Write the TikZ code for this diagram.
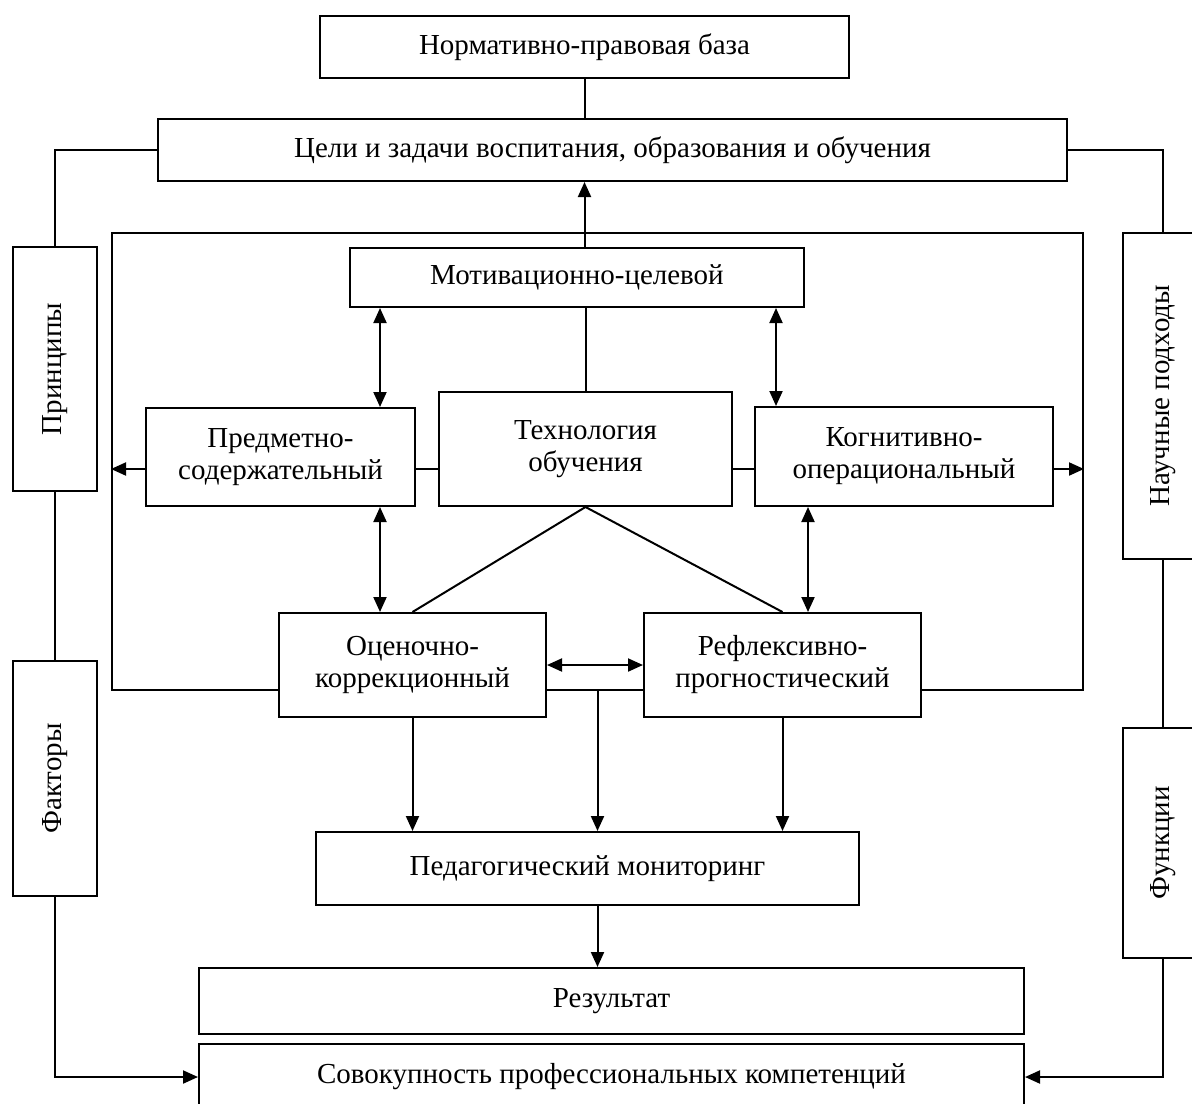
\documentclass[tikz,border=0pt]{standalone}
\usepackage{fontspec}
\setmainfont{Liberation Serif}
\usepackage{graphicx}
\usepackage{tikz}
\usetikzlibrary{arrows.meta,positioning}
\tikzset{blok/.style={draw,fill=white,inner sep=0pt,align=center,font=\fontsize{14.5}{16}\selectfont}}
\newcommand\vtext[1]{\rotatebox{90}{#1}}

\begin{document}
\begin{tikzpicture}[x=0.5pt,y=-0.5pt,line width=1pt,>={Triangle[length=7.5pt,width=6.5pt]}]%
        \useasboundingbox (0,0) rectangle (1192,1103);%
        \clip (0,0) rectangle (1192,1103);%
        %\draw[step=100,color=gray,very thin] (0,0) grid (1192,1103);%%
        \node[draw,minimum width=485.5pt,minimum height=228.5pt] (ramka) at (597.5,461.5) {}; %%
        \coordinate (lcol) at (380,0); %%
        \coordinate (rcolA) at (776,0); %%
        \coordinate (rcolB) at (808,0); %%
        \coordinate (mid) at (0,469); %%
        \begin{scope}[every node/.style={blok}]
        \node[minimum width=264.5pt,minimum height=31pt] (norm) at (584.5,47) {Нормативно-правовая база}; %%
        \node[minimum width=454.5pt,minimum height=31pt] (celi) at (612.5,150) {Цели и задачи воспитания, образования и обучения}; %%
        \node[minimum width=227pt,minimum height=29.5pt] (motiv) at (577,277.5) {Мотивационно-целевой}; %%
        \node[minimum width=134.5pt,minimum height=49pt] (predm) at (280.5,457) {Предметно-\\содержательный}; %%
        \node[minimum width=146.5pt,minimum height=57pt] (tech) at (585.5,449) {Технология\\обучения}; %%
        \node[minimum width=149pt,minimum height=49.5pt] (kogn) at (904,456.5) {Когнитивно-\\операциональный}; %%
        \node[minimum width=133.5pt,minimum height=52pt] (ocen) at (412.5,665) {Оценочно-\\коррекционный}; %%
        \node[minimum width=138.5pt,minimum height=52pt] (refl) at (782.5,665) {Рефлексивно-\\прогностический}; %%
        \node[minimum width=271.5pt,minimum height=36.5pt] (monit) at (587.5,868.5) {Педагогический мониторинг}; %%
        \node[minimum width=412.5pt,minimum height=33pt] (rezult) at (611.5,1001) {Результат}; %%
        \node[minimum width=412.5pt,minimum height=33pt] (sovok) at (611.5,1077) {Совокупность профессиональных компетенций}; %%
        \node[minimum width=42pt,minimum height=122pt] (princ) at (55,369) {\vtext{Принципы}}; %%
        \node[minimum width=42pt,minimum height=117.5pt] (fakt) at (55,778.5) {\vtext{Факторы}}; %%
        \node[minimum width=40pt,minimum height=163pt] (nauch) at (1163,396) {\vtext{Научные подходы}}; %%
        \node[minimum width=40pt,minimum height=115pt] (funk) at (1163,843) {\vtext{Функции}}; %%
        \end{scope}
        \draw (norm.south) -- (norm.south |- celi.north); %%
        \draw[->] (motiv.north -| norm.south) -- (celi.south -| norm.south); %%
        \draw (tech.north) -- (tech.north |- motiv.south); %%
        \draw[<->] (motiv.south -| lcol) -- (predm.north -| lcol); %%
        \draw[<->] (motiv.south -| rcolA) -- (kogn.north -| rcolA); %%
        \draw[<->] (predm.south -| lcol) -- (ocen.north -| lcol); %%
        \draw[<->] (kogn.south -| rcolB) -- (refl.north -| rcolB); %%
        \draw[->] (predm.west |- mid) -- (ramka.west |- mid); %%
        \draw (predm.east |- mid) -- (tech.west |- mid); %%
        \draw (tech.east |- mid) -- (kogn.west |- mid); %%
        \draw[->] (kogn.east |- mid) -- (ramka.east |- mid); %%
        \draw (ocen.north) -- (tech.south) -- (refl.north); %%
        \draw[<->] (ocen.east) -- (refl.west); %%
        \draw[->] (ocen.south) -- (ocen.south |- monit.north); %%
        \draw[->] (ramka.south) -- (ramka.south |- monit.north); %%
        \draw[->] (refl.south) -- (refl.south |- monit.north); %%
        \draw[->] (ramka.south |- monit.south) -- (ramka.south |- rezult.north); %%
        \draw (celi.west) -| (princ.north); %%
        \draw (princ.south) -- (fakt.north); %%
        \draw[->] (fakt.south) |- (sovok.west); %%
        \draw (celi.east) -| (nauch.north); %%
        \draw (nauch.south) -- (funk.north); %%
        \draw[->] (funk.south) |- (sovok.east); %%
\end{tikzpicture}
\end{document}
